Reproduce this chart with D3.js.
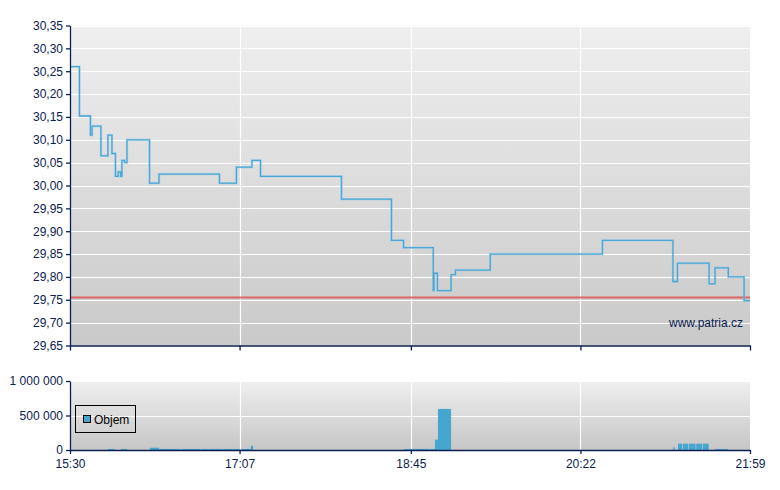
<!DOCTYPE html>
<html><head><meta charset="utf-8">
<script src="https://cdn.jsdelivr.net/npm/d3@7"></script>
<style>body{margin:0;background:#fff;} svg{display:block;font-family:"Liberation Sans",Arial,sans-serif;}</style>
</head><body><svg id="c" width="780" height="490"></svg>
<script>
// ---- data ----
const priceTimes = ["15:30:00","15:35:24","15:41:42","15:42:36","15:47:42","15:51:42","15:54:00","15:56:00","15:57:30","15:58:54","15:59:42","16:01:12","16:02:36","16:15:30","16:20:54","16:55:30","17:05:12","17:14:06","17:19:00","18:05:18","18:33:54","18:40:48","18:57:48","18:58:12","19:00:12","19:08:00","19:10:30","19:30:24","20:34:36","21:14:54","21:17:30","21:35:36","21:39:00","21:46:36","21:55:36","21:59:00"];
const priceValues = [30.26,30.152,30.11,30.13,30.065,30.11,30.07,30.02,30.03,30.02,30.055,30.05,30.10,30.005,30.025,30.005,30.04,30.055,30.02,29.97,29.88,29.864,29.77,29.808,29.77,29.805,29.815,29.85,29.88,29.79,29.83,29.785,29.82,29.80,29.748,29.748];
const refPrice = 29.755;
const volStart = ["15:51:36","15:59:00","16:15:48","16:20:54","16:33:48","16:45:12","16:49:48","16:57:18","17:08:06","17:13:30","18:41:06","18:55:54","18:58:48","19:00:30","21:14:48","21:15:36","21:17:48","21:20:42","21:24:06","21:28:12","21:32:00","21:39:00"];
const volEnd   = ["15:55:42","16:02:36","16:20:54","16:33:18","16:44:42","16:49:18","16:56:48","17:07:36","17:13:30","17:14:42","18:55:24","18:58:48","19:00:30","19:08:00","21:15:12","21:16:00","21:20:18","21:23:42","21:27:54","21:31:36","21:35:24","21:46:24"];
const volValues = [15000,15000,33000,15000,15000,15000,15000,15000,15000,62000,15000,15000,150000,595000,40000,40000,91000,91000,91000,91000,91000,15000];
const priceTicks = [29.65,29.70,29.75,29.80,29.85,29.90,29.95,30.00,30.05,30.10,30.15,30.20,30.25,30.30,30.35];
const volTicks = [0,500000,1000000];
const timeTicks = ["15:30","17:07","18:45","20:22","21:59"];
const legendLabel = "Objem";
const watermark = "www.patria.cz";

// ---- setup ----
const svg = d3.select("#c");
const pt = d3.timeParse("%H:%M:%S"), pm = d3.timeParse("%H:%M");
const navy = "#0b2150";
const x = d3.scaleTime().domain([pm("15:30"), pm("21:59")]).range([70, 750]);
const y = d3.scaleLinear().domain([29.65, 30.35]).range([345.5, 25.5]);
const yv = d3.scaleLinear().domain([0, 1000000]).range([450, 381]);

const defs = svg.append("defs");
function grad(id, c1, c2){
  const g = defs.append("linearGradient").attr("id", id).attr("x1",0).attr("y1",0).attr("x2",0).attr("y2",1);
  g.append("stop").attr("offset","0%").attr("stop-color",c1);
  g.append("stop").attr("offset","100%").attr("stop-color",c2);
}
grad("g1","#efefef","#c9c9c9");
grad("g2","#efefef","#c6c6c6");

// backgrounds
svg.append("rect").attr("x",x.range()[0]).attr("y",y(30.35)).attr("width",x.range()[1]-x.range()[0]).attr("height",y(29.65)-y(30.35)).attr("fill","url(#g1)");
svg.append("rect").attr("x",x.range()[0]).attr("y",yv(1000000)).attr("width",x.range()[1]-x.range()[0]).attr("height",yv(0)-yv(1000000)).attr("fill","url(#g2)");

// grids
const fmtP = v => d3.format(".2f")(v).replace(".", ",");
const fmtV = v => d3.format(",")(v).replace(/,/g, " ");
const tickDates = timeTicks.map(pm);
const gGrid = svg.append("g").attr("stroke","#fff").attr("stroke-width",1.2);
priceTicks.forEach(v => gGrid.append("line").attr("x1",70).attr("x2",750).attr("y1",Math.round(y(v))+0.5).attr("y2",Math.round(y(v))+0.5));
volTicks.slice(1).forEach(v => gGrid.append("line").attr("x1",70).attr("x2",750).attr("y1",Math.round(yv(v))+0.5).attr("y2",Math.round(yv(v))+0.5));
tickDates.slice(1,-1).forEach(d => {
  const xx = Math.round(x(d))+0.5;
  gGrid.append("line").attr("x1",xx).attr("x2",xx).attr("y1",y(30.35)).attr("y2",y(29.65));
  gGrid.append("line").attr("x1",xx).attr("x2",xx).attr("y1",yv(1000000)).attr("y2",yv(0));
});

// red reference line
svg.append("line").attr("x1",70).attr("x2",750).attr("y1",y(refPrice)).attr("y2",y(refPrice))
  .attr("stroke","#e05050").attr("stroke-width",2).attr("stroke-opacity",0.85);

// price line
const pdata = priceTimes.map((t,i)=>({t:pt(t), v:priceValues[i]}));
const line = d3.line().x(d=>x(d.t)).y(d=>y(d.v)).curve(d3.curveStepAfter);
svg.append("path").datum(pdata).attr("d",line).attr("fill","none").attr("stroke","#9ccbe6").attr("stroke-width",2.4).attr("stroke-opacity",0.6);
svg.append("path").datum(pdata).attr("d",line).attr("fill","none").attr("stroke","#4aa6d4").attr("stroke-width",1.3);

// volume bars
svg.append("g").selectAll("rect").data(volValues).join("rect")
  .attr("x",(d,i)=>x(pt(volStart[i])))
  .attr("width",(d,i)=>Math.max(0.8, x(pt(volEnd[i]))-x(pt(volStart[i]))))
  .attr("y",d=>yv(d)).attr("height",d=>yv(0)-yv(d)).attr("fill","#46a6d0");

// axes
function styleAxis(g){
  g.selectAll("path,line").attr("stroke",navy).attr("stroke-width",1.3);
  g.selectAll("text").attr("fill",navy).style("font-size","12px").style("font-family","'Liberation Sans',Arial,sans-serif");
}
svg.append("g").attr("transform","translate(70,0)")
  .call(d3.axisLeft(y).tickValues(priceTicks).tickFormat(fmtP).tickSize(4).tickSizeOuter(0).tickPadding(3)).call(styleAxis);
svg.append("g").attr("transform","translate(0,345.5)")
  .call(d3.axisBottom(x).tickValues(tickDates).tickFormat("").tickSize(5).tickSizeOuter(0)).call(styleAxis);
svg.append("g").attr("transform","translate(70,0)")
  .call(d3.axisLeft(yv).tickValues(volTicks).tickFormat(fmtV).tickSize(4).tickSizeOuter(0).tickPadding(3)).call(styleAxis);
svg.append("g").attr("transform","translate(0,450)")
  .call(d3.axisBottom(x).tickValues(tickDates).tickFormat(d3.timeFormat("%H:%M")).tickSize(4).tickSizeOuter(0).tickPadding(5)).call(styleAxis);

// legend
const lg = svg.append("g");
lg.append("rect").attr("x",75.5).attr("y",405.5).attr("width",60).attr("height",27).attr("fill","none").attr("stroke","#000").attr("stroke-width",1);
lg.append("rect").attr("x",83.5).attr("y",415.5).attr("width",7).attr("height",7).attr("fill","#46a6d0").attr("stroke","#000").attr("stroke-width",1);
lg.append("text").attr("x",94).attr("y",424).attr("fill","#000").style("font-size","12px").text(legendLabel);

// watermark
svg.append("text").attr("x",743).attr("y",327).attr("text-anchor","end").attr("fill",navy).style("font-size","12px").text(watermark);
</script></body></html>
